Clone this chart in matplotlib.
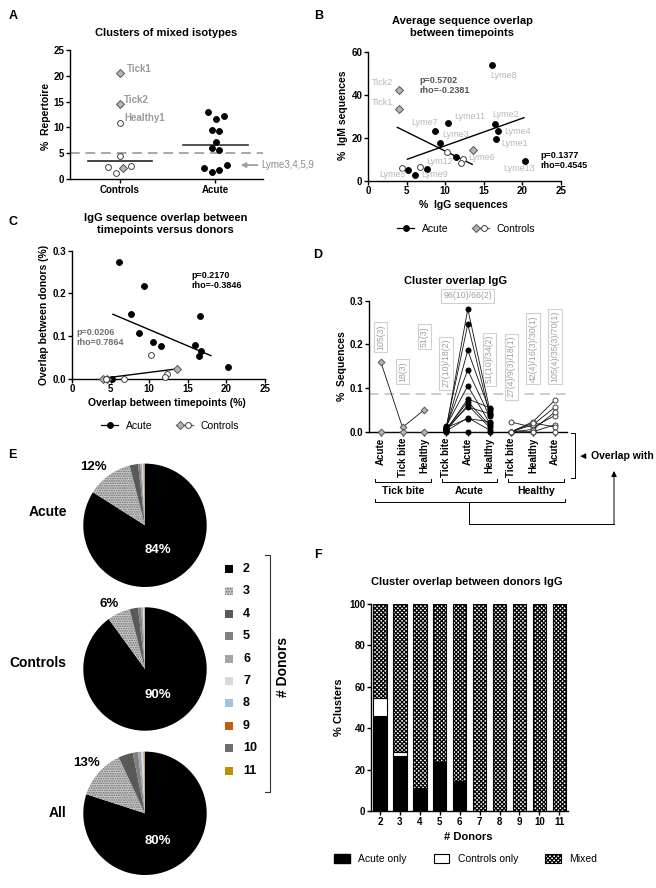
import numpy as np
import matplotlib
matplotlib.use('Agg')
import matplotlib.pyplot as plt
from matplotlib.lines import Line2D
from matplotlib.patches import Patch, Rectangle
from matplotlib.legend_handler import HandlerTuple

plt.rcParams['font.family'] = ['Liberation Sans', 'DejaVu Sans']
plt.rcParams['font.weight'] = 'bold'
plt.rcParams['axes.labelweight'] = 'bold'
plt.rcParams['hatch.linewidth'] = 0.9

# ---------------- data ----------------
# A: clusters of mixed isotypes (% repertoire)
a_ctrl_y = [20.5, 14.5, 10.9, 4.5, 2.4, 1.1, 2.1, 2.5]
a_ctrl_kind = ['d', 'd', 'o', 'o', 'o', 'o', 'd', 'o']
a_ctrl_jit = [0, 0, 0, 0, -0.125, -0.04, 0.035, 0.115]
a_ctrl_names = ['Tick1', 'Tick2', 'Healthy1']
a_acute_y = [12.9, 11.6, 12.2, 9.4, 9.3, 7.2, 6.1, 5.6, 2.2, 1.4, 1.7, 2.8]
a_acute_jit = [-0.07, 0.01, 0.09, -0.035, 0.045, 0.01, -0.035, 0.045, -0.115, -0.035, 0.045, 0.13]
a_threshold = 5.1

# B: average sequence overlap between timepoints
b_acute_x = [16.0, 10.4, 8.7, 16.4, 16.8, 16.6, 9.3, 11.4, 20.3, 7.6, 5.2, 6.1]
b_acute_y = [54.0, 27.0, 23.3, 26.3, 23.3, 19.4, 17.7, 11.2, 9.0, 5.6, 5.1, 2.7]
b_ctrl_x = [4.0, 4.0, 13.6, 10.2, 12.3, 12.0, 6.8, 4.4]
b_ctrl_y = [42.2, 33.3, 14.5, 13.3, 10.3, 8.0, 6.6, 6.0]
b_ctrl_kind = ['d', 'd', 'd', 'o', 'o', 'o', 'o', 'o']
b_names = ['Lyme8', 'Tick2', 'Tick1', 'Lyme7', 'Lyme11', 'Lyme2', 'Lyme4', 'Lyme1',
           'Lyme3', 'Lyme6', 'Lym12', 'Lyme13', 'Lyme5', 'Lyme9']
b_name_pos = [(15.8, 48.7), (0.5, 45.9), (0.5, 36.5), (5.6, 27.2), (11.2, 29.7), (16.1, 31.0),
              (17.7, 22.7), (17.3, 17.5), (9.6, 21.7), (13.0, 11.0), (7.5, 8.8), (17.5, 5.5),
              (1.4, 2.7), (6.9, 3.1)]
b_fit_acute = ([5.1, 20.2], [10.0, 29.3])
b_fit_ctrl = ([3.8, 13.5], [24.8, 7.6])

# C: IgG overlap timepoints vs donors
c_acute_x = [6.1, 9.3, 7.7, 16.6, 8.7, 10.5, 11.5, 15.9, 16.7, 16.4, 20.2, 5.2]
c_acute_y = [0.273, 0.218, 0.152, 0.146, 0.106, 0.086, 0.077, 0.078, 0.066, 0.053, 0.027, 0.0]
c_ctrl_x = [4.0, 4.5, 13.6, 10.2, 12.3, 12.0, 6.8, 4.4]
c_ctrl_y = [0.0, 0.0, 0.022, 0.056, 0.012, 0.003, 0.0, 0.0]
c_ctrl_kind = ['d', 'd', 'd', 'o', 'o', 'o', 'o', 'o']
c_fit_acute = ([5.3, 18.0], [0.151, 0.054])
c_fit_ctrl = ([4.0, 13.6], [0.001, 0.023])

# D: cluster overlap IgG
d_ticks = ['Acute', 'Tick bite', 'Healthy', 'Tick bite', 'Acute', 'Healthy',
           'Tick bite', 'Healthy', 'Acute']
d_tick_grp = [[0.16, 0.01, 0.05], [0.0, 0.0, 0.0]]
d_acute_grp = [[0.004, 0.281, 0.052], [0.008, 0.246, 0.040], [0.006, 0.186, 0.048],
               [0.010, 0.141, 0.035], [0.012, 0.105, 0.020], [0.003, 0.075, 0.055],
               [0.005, 0.069, 0.015], [0.002, 0.061, 0.010], [0.007, 0.057, 0.041],
               [0.001, 0.032, 0.004], [0.009, 0.030, 0.023], [0.0, 0.0, 0.0]]
d_healthy_grp = [[0.022, 0.010, 0.037], [0.0, 0.023, 0.072], [0.0, 0.016, 0.056],
                 [0.0, 0.005, 0.045], [0.0, 0.0, 0.016], [0.0, 0.020, 0.011], [0.0, 0.0, 0.0]]
d_box_text = ['105(3)', '18(3)', '51(3)', '27(10)/18(2)', '96(10)/66(2)', '51(10)/34(2)',
              '27(4)/9(3)/18(1)', '42(4)/16(3)/30(1)', '105(4)/35(3)/70(1)']
d_box_y = [0.217, 0.137, 0.218, 0.157, 0.311, 0.166, 0.149, 0.19, 0.195]
d_threshold = 0.087

# E: pies, share of clusters by number of donors
donor_n = ['2', '3', '4', '5', '6', '7', '8', '9', '10', '11']
pie_colors = ['#000000', '#cfcfcf', '#595959', '#808080', '#a6a6a6', '#d9d9d9',
              '#9dc3e6', '#c55a11', '#6e6e6e', '#bf9000']
pie_acute = [84, 12, 2.2, 0.6, 0.4, 0.3, 0.1, 0.1, 0.2, 0.1]
pie_controls = [90, 6, 2.2, 0.8, 0.5, 0.3, 0.1, 0.0, 0.1, 0.0]
pie_all = [80, 13, 3.8, 1.4, 0.8, 0.5, 0.2, 0.1, 0.1, 0.1]

# F: cluster overlap between donors IgG
f_donors = [2, 3, 4, 5, 6, 7, 8, 9, 10, 11]
f_acute_only = [46, 26.5, 11, 23.5, 14.5, 0, 0, 0, 0, 0]
f_ctrl_only = [8.5, 2, 0, 0, 0, 0, 0, 0, 0, 0]

# ---------------- layout helpers ----------------
W, H = 656, 888
fig = plt.figure(figsize=(W / 100, H / 100), dpi=100)
ov = fig.add_axes([0, 0, 1, 1])
ov.set_xlim(0, W)
ov.set_ylim(H, 0)
ov.axis('off')
ov.set_zorder(10)


def add_ax(l, t, r, b):
    ax = fig.add_axes([l / W, 1 - b / H, (r - l) / W, (b - t) / H])
    ax.box = (l, t, r, b)
    return ax


def style(ax):
    for s in ['top', 'right']:
        ax.spines[s].set_visible(False)
    for s in ['left', 'bottom']:
        ax.spines[s].set_linewidth(1.0)
    ax.tick_params(direction='out', length=3, width=1, labelsize=7, pad=1)


def xlabel_at(ax, text, px, py, size=7.5):
    l, t, r, b = ax.box
    ax.set_xlabel(text, fontsize=size, va='center')
    ax.xaxis.set_label_coords((px - l) / (r - l), (b - py) / (b - t))


def ylabel_at(ax, text, px, py, size=7.5):
    l, t, r, b = ax.box
    ax.set_ylabel(text, fontsize=size, va='center')
    ax.yaxis.set_label_coords((px - l) / (r - l), (b - py) / (b - t))


def mstyle(kind):
    if kind == 'd':
        return dict(marker='D', ms=3.6, mfc='#b4b4b4', mec='#555555', mew=0.7)
    if kind == 'o':
        return dict(marker='o', ms=4.2, mfc='white', mec='#404040', mew=0.7)
    return dict(marker='o', ms=4.2, mfc='black', mec='black', mew=0.7)


# panel letters
for letter, x, y in [('A', 13, 16), ('B', 319, 16), ('C', 13, 222), ('D', 318, 255),
                     ('E', 12, 455), ('F', 318, 555)]:
    ov.text(x, y, letter, fontsize=9, ha='center', va='center')

# ---------------- A ----------------
axA = add_ax(70, 50, 263, 179)
style(axA)
for y, k, j in zip(a_ctrl_y, a_ctrl_kind, a_ctrl_jit):
    axA.plot(j, y, ls='none', clip_on=False, zorder=3, **mstyle(k))
for y, j in zip(a_acute_y, a_acute_jit):
    axA.plot(1 + j, y, ls='none', clip_on=False, zorder=3, **mstyle('f'))
axA.plot([-0.34, 0.34], [np.median(a_ctrl_y)] * 2, color='#222222', lw=1.2)
axA.plot([0.66, 1.35], [np.median(a_acute_y)] * 2, color='#333333', lw=1.2)
axA.axhline(a_threshold, color='#a8a8a8', ls=(0, (5, 3)), lw=1.4, zorder=1)
for name, y, dx in zip(a_ctrl_names, a_ctrl_y[:3], [0.074, 0.04, 0.05]):
    axA.text(dx, y + 0.85, name, fontsize=7, color='#9a9a9a', va='center', ha='left')
axA.annotate('Lyme3,4,5,9', xy=(1.27, 2.7), xytext=(1.49, 2.7), va='center', ha='left',
             fontsize=7, fontweight='normal', color='#8c8c8c', annotation_clip=False,
             arrowprops=dict(arrowstyle='-|>', color='#a0a0a0', lw=1.3, mutation_scale=7,
                             shrinkA=1, shrinkB=0))
axA.set_xlim(-0.526, 1.505)
axA.set_ylim(0, 25)
axA.set_yticks([0, 5, 10, 15, 20, 25])
axA.set_xticks([0, 1])
axA.set_xticklabels(['Controls', 'Acute'])
ylabel_at(axA, '%  Repertoire', 46, 116)
ov.text(166, 33, 'Clusters of mixed isotypes', fontsize=8, ha='center', va='center')

# ---------------- B ----------------
axB = add_ax(368, 51.7, 561, 180.7)
style(axB)
axB.plot(*b_fit_acute, color='k', lw=1.0)
axB.plot(*b_fit_ctrl, color='k', lw=1.0)
for x, y in zip(b_acute_x, b_acute_y):
    axB.plot(x, y, ls='none', zorder=3, **mstyle('f'))
for x, y, k in zip(b_ctrl_x, b_ctrl_y, b_ctrl_kind):
    axB.plot(x, y, ls='none', zorder=3, **mstyle(k))
for name, (x, y) in zip(b_names, b_name_pos):
    axB.text(x, y, name, fontsize=6.5, fontweight='normal', color='#b8b8b8',
             ha='left', va='center', clip_on=False)
axB.text(6.6, 44.2, 'p=0.5702\nrho=-0.2381', fontsize=6.5, color='#555555',
         ha='left', va='center', linespacing=1.15)
axB.text(22.3, 9.3, 'p=0.1377\nrho=0.4545', fontsize=6.5, color='black',
         ha='left', va='center', linespacing=1.15, clip_on=False)
axB.set_xlim(0, 25)
axB.set_ylim(0, 60)
axB.set_xticks([0, 5, 10, 15, 20, 25])
axB.set_yticks([0, 20, 40, 60])
xlabel_at(axB, '%  IgG sequences', 463, 205)
ylabel_at(axB, '%  IgM sequences', 343, 115)
ov.text(462, 26.5, 'Average sequence overlap\nbetween timepoints', fontsize=8,
        ha='center', va='center', linespacing=1.25)

h_acute = Line2D([], [], color='k', lw=0.9, **mstyle('f'))
h_ctrl = (Line2D([], [], color='#555555', lw=0.9, **mstyle('d')),
          Line2D([], [], color='#555555', lw=0.9, **mstyle('o')))
axB.legend([h_acute, h_ctrl], ['Acute', 'Controls'], loc='center', ncol=2,
           bbox_to_anchor=(0.51, -0.375), frameon=False, handlelength=1.6,
           columnspacing=2.2, handletextpad=0.8, borderaxespad=0,
           handler_map={tuple: HandlerTuple(ndivide=None, pad=0)},
           prop=dict(size=7.5, weight='normal'))

# ---------------- C ----------------
axC = add_ax(72, 250.7, 265, 378.7)
style(axC)
axC.plot(*c_fit_acute, color='k', lw=1.0)
axC.plot(*c_fit_ctrl, color='k', lw=1.0)
for x, y in zip(c_acute_x, c_acute_y):
    axC.plot(x, y, ls='none', zorder=3, clip_on=False, **mstyle('f'))
for x, y, k in zip(c_ctrl_x, c_ctrl_y, c_ctrl_kind):
    axC.plot(x, y, ls='none', zorder=3, clip_on=False, **mstyle(k))
axC.text(15.5, 0.231, 'p=0.2170\nrho=-0.3846', fontsize=6.5, color='black',
         ha='left', va='center', linespacing=1.15)
axC.text(0.6, 0.097, 'p=0.0206\nrho=0.7864', fontsize=6.5, color='#707070',
         ha='left', va='center', linespacing=1.15)
axC.set_xlim(0, 25)
axC.set_ylim(0, 0.3)
axC.set_xticks([0, 5, 10, 15, 20, 25])
axC.set_yticks([0.0, 0.1, 0.2, 0.3])
axC.set_yticklabels(['%.1f' % v for v in [0.0, 0.1, 0.2, 0.3]])
xlabel_at(axC, 'Overlap between timepoints (%)', 167, 403)
ylabel_at(axC, 'Overlap between donors (%)', 44, 315)
ov.text(165.5, 223.5, 'IgG sequence overlap between\ntimepoints versus donors', fontsize=8,
        ha='center', va='center', linespacing=1.25)
axC.legend([h_acute, h_ctrl], ['Acute', 'Controls'], loc='center', ncol=2,
           bbox_to_anchor=(0.51, -0.37), frameon=False, handlelength=1.6,
           columnspacing=2.2, handletextpad=0.8, borderaxespad=0,
           handler_map={tuple: HandlerTuple(ndivide=None, pad=0)},
           prop=dict(size=7.5, weight='normal'))

# ---------------- D ----------------
axD = add_ax(369, 300.7, 567, 431.7)
style(axD)
for grp, cols, kind in [(d_tick_grp, [0, 1, 2], 'd'), (d_acute_grp, [3, 4, 5], 'f'),
                        (d_healthy_grp, [6, 7, 8], 'o')]:
    for vals in grp:
        st = mstyle(kind)
        st['ms'] = 3.6 if kind != 'd' else 3.4
        axD.plot(cols, vals, color='#111111', lw=0.6, clip_on=False, zorder=3, **st)
axD.axhline(d_threshold, color='#cccccc', ls=(0, (5, 3)), lw=1.4, zorder=1)
for i, (txt, y) in enumerate(zip(d_box_text, d_box_y)):
    axD.text(i, y, txt, fontsize=6.3, fontweight='normal', color='#a0a0a0',
             rotation=0 if i == 4 else 90, ha='center', va='center', clip_on=False,
             bbox=dict(boxstyle='square,pad=0.25', fc='white', ec='#d0d0d0', lw=0.8),
             zorder=2)
axD.set_xlim(-0.54, 8.56)
axD.set_ylim(0, 0.3)
axD.set_yticks([0.0, 0.1, 0.2, 0.3])
axD.set_yticklabels(['%.1f' % v for v in [0.0, 0.1, 0.2, 0.3]])
axD.set_xticks(range(len(d_ticks)))
axD.set_xticklabels(d_ticks, rotation=90, fontsize=7)
ylabel_at(axD, '%  Sequences', 342, 366)
ov.text(456, 281, 'Cluster overlap IgG', fontsize=8, ha='center', va='center')


def bracket(x0, x1, y, h=3, lw=0.7):
    ov.plot([x0, x0, x1, x1], [y - h, y, y, y - h], color='k', lw=lw)


bracket(375, 431, 482)
bracket(441.7, 497.3, 482)
bracket(508, 564, 482)
for x, t in [(403, 'Tick bite'), (469.5, 'Acute'), (536, 'Healthy')]:
    ov.text(x, 491, t, fontsize=7.5, ha='center', va='center')
bracket(375, 565, 502)
ov.plot([469.3, 469.3, 614], [502, 524.3, 524.3], color='k', lw=0.7)
ov.annotate('', xy=(614, 471), xytext=(614, 524.6),
            arrowprops=dict(arrowstyle='-|>', lw=0.7, color='k', mutation_scale=8,
                            shrinkA=0, shrinkB=0))
ov.plot([571, 575.3, 575.3, 571], [433.3, 433.3, 478.3, 478.3], color='k', lw=0.7)
ov.text(578, 456, '\u25c4 Overlap with', fontsize=7.5, ha='left', va='center')

# ---------------- E ----------------
for vals, (cx, cy), name, name_xy, big_xy, small_xy in [
        (pie_acute, (145, 525.3), 'Acute', (47.5, 512), (158, 550), (93, 467)),
        (pie_controls, (145, 669), 'Controls', (38, 663), (158, 695), (109, 604)),
        (pie_all, (145, 813.3), 'All', (58, 813), (158, 841), (86, 763))]:
    r = 61.7
    axp = add_ax(cx - r, cy - r, cx + r, cy + r)
    wedges, _ = axp.pie(vals, colors=pie_colors, startangle=90, counterclock=False,
                        wedgeprops=dict(linewidth=0))
    wedges[1].set_hatch('.......')
    wedges[1].set_edgecolor('#6a6a6a')
    axp.set_xlim(-1, 1)
    axp.set_ylim(-1, 1)
    axp.axis('off')
    ov.text(*name_xy, name, fontsize=10, ha='center', va='center')
    ov.text(*big_xy, '%d%%' % vals[0], fontsize=9.5, color='white', ha='center', va='center')
    ov.text(*small_xy, '%d%%' % vals[1], fontsize=9.5, color='black', ha='center', va='center')

for i, (n, c) in enumerate(zip(donor_n, pie_colors)):
    yc = 569 + 22.4 * i
    sq = Rectangle((225, yc - 4), 8, 8, fc=c, lw=0, ec='#6a6a6a')
    if i == 1:
        sq.set_hatch('......')
    ov.add_patch(sq)
    ov.text(243, yc, n, fontsize=9, ha='left', va='center')
ov.plot([265, 270, 270, 265], [555, 555, 792, 792], color='#333333', lw=0.8)
ov.text(283, 667, '# Donors', fontsize=10, rotation=90, ha='center', va='center')

# ---------------- F ----------------
axF = add_ax(371, 604, 568, 811)
style(axF)
f_acute_only = np.array(f_acute_only, dtype=float)
f_ctrl_only = np.array(f_ctrl_only, dtype=float)
f_mixed = 100 - f_acute_only - f_ctrl_only
bw = 0.67
axF.bar(f_donors, f_acute_only, width=bw, color='black', edgecolor='black', lw=0.8)
axF.bar(f_donors, f_ctrl_only, bottom=f_acute_only, width=bw, color='white',
        edgecolor='black', lw=0.8)
axF.bar(f_donors, f_mixed, bottom=f_acute_only + f_ctrl_only, width=bw, color='white',
        edgecolor='black', lw=0.8, hatch='xxxxxxxx')
axF.set_xlim(1.548, 11.437)
axF.set_ylim(0, 100)
axF.set_yticks([0, 20, 40, 60, 80, 100])
axF.set_xticks(f_donors)
xlabel_at(axF, '# Donors', 468, 837, size=8)
ylabel_at(axF, '% Clusters', 339, 707, size=8)
ov.text(467, 582, 'Cluster overlap between donors IgG', fontsize=8, ha='center', va='center')
axF.legend([Patch(fc='black', ec='black'), Patch(fc='white', ec='black', lw=0.8),
            Patch(fc='white', ec='black', lw=0.8, hatch='xxxxxxxx')],
           ['Acute only', 'Controls only', 'Mixed'], loc='center', ncol=3,
           bbox_to_anchor=(0.48, -0.232), frameon=False, handlelength=1.5,
           handleheight=0.9, columnspacing=2.6, handletextpad=0.8, borderaxespad=0,
           prop=dict(size=7.5, weight='normal'))

fig.savefig('out.png', dpi=100)
